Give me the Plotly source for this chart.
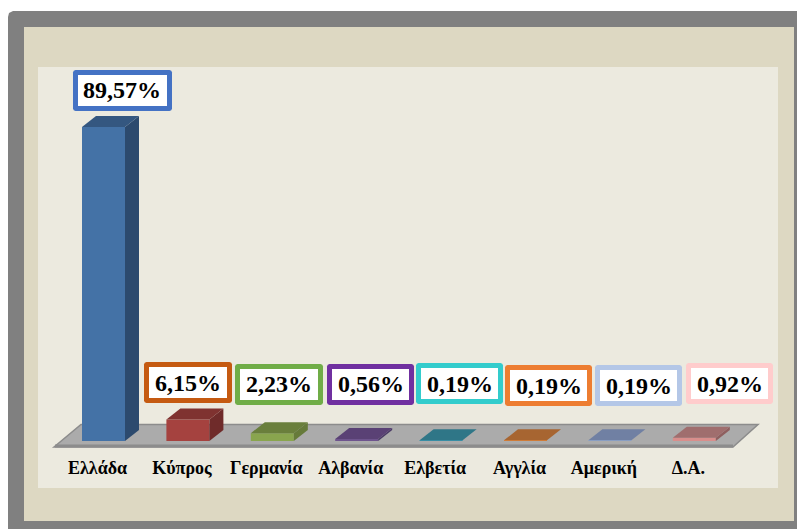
import plotly.graph_objects as go

categories = ["Ελλάδα", "Κύπρος", "Γερμανία", "Αλβανία", "Ελβετία", "Αγγλία", "Αμερική", "Δ.Α."]
values = [89.57, 6.15, 2.23, 0.56, 0.19, 0.19, 0.19, 0.92]
value_labels = ["89,57%", "6,15%", "2,23%", "0,56%", "0,19%", "0,19%", "0,19%", "0,92%"]
front_colors = ["#4472A6", "#A5423F", "#89A54E", "#6E548D", "#3D96AE", "#DB843D", "#92A8CD", "#D98E8C"]
side_colors = ["#2C4A6E", "#6F2B2A", "#667A3A", "#4A3A66", "#2A6C7E", "#96592A", "#66759A", "#8F5F5F"]
top_colors = ["#345780", "#7F3230", "#6A7F3C", "#5A4175", "#2F7687", "#A76531", "#7080A3", "#A06E6E"]
border_colors = ["#4472C4", "#C55A11", "#70AD47", "#7030A0", "#33CCCC", "#ED7D31", "#B4C7E7", "#FFCCCC"]

W, H = 797, 529
PX_PER_CAT = 84.4
PX_PER_VAL = 3.506
LABEL_X0 = 97.5
BASE_Y = 441.0
AXIS_Y = 452.0
BAR_W = 43 / PX_PER_CAT
BAR_OFF = 6.0 / PX_PER_CAT
DEPTH_X = 14 / PX_PER_CAT
DEPTH_Y = 11 / PX_PER_VAL

# (x-left, x-right, y-top, y-bottom) in pixels of each label box
boxes = [(73, 172, 70, 111), (144, 232, 362, 403), (235, 323, 364, 405), (327, 414, 364, 405),
         (416, 503, 363, 404), (505, 592, 365, 406), (595, 682, 365, 406), (686, 773, 363, 404)]

def px(x): return x / W
def py(y): return 1 - y / H

def rect(x0, y0, x1, y1, color, layer="below"):
    return dict(type="rect", xref="paper", yref="paper", x0=px(x0), x1=px(x1), y0=py(y0), y1=py(y1),
                fillcolor=color, line_width=0, layer=layer)

def poly(points, fill, line=None, width=0, layer="below"):
    d = "M" + " L".join(f"{px(a):.5f},{py(b):.5f}" for a, b in points) + " Z"
    return dict(type="path", xref="paper", yref="paper", path=d, fillcolor=fill,
                line=dict(color=line or fill, width=width), layer=layer)

def rounded(x0, y0, x1, y1, color, r=2.5):
    c = r * 0.3
    pts = [(x0 + r, y0), (x1 - r, y0), (x1 - c, y0 + c), (x1, y0 + r), (x1, y1 - r), (x1 - c, y1 - c),
           (x1 - r, y1), (x0 + r, y1), (x0 + c, y1 - c), (x0, y1 - r), (x0, y0 + r), (x0 + c, y0 + c)]
    return poly(pts, color, layer="above")

shapes = [
    poly([(8, 529), (8, 17), (9, 13), (13, 11), (797, 11), (797, 529)], "#808080"),
    rect(24, 27, 794, 521, "#DDD8C2"),
    rect(38, 67, 778, 488, "#ECEADF"),
    poly([(54, 447), (81, 424.5), (758, 424.5), (733, 447)], "#ABABAB", "#8C8C8C", 1.5),
    rect(55, 444.5, 733, 447.5, "#8C8C8C"),
]

fig = go.Figure()

for i, v in enumerate(values):
    x0 = i + BAR_OFF - BAR_W / 2
    x1 = x0 + BAR_W
    fig.add_trace(go.Scatter(x=[x1, x1 + DEPTH_X, x1 + DEPTH_X, x1, x1], y=[0, DEPTH_Y, v + DEPTH_Y, v, 0],
                             mode="lines", fill="toself", fillcolor=side_colors[i], line=dict(width=0),
                             hoverinfo="skip"))
    fig.add_trace(go.Scatter(x=[x0, x1, x1 + DEPTH_X, x0 + DEPTH_X, x0], y=[v, v, v + DEPTH_Y, v + DEPTH_Y, v],
                             mode="lines", fill="toself", fillcolor=top_colors[i], line=dict(width=0),
                             hoverinfo="skip"))

fig.add_trace(go.Bar(x=[i + BAR_OFF for i in range(len(values))], y=values, width=BAR_W,
                     marker=dict(color=front_colors, line_width=0), hovertext=categories, hoverinfo="text+y"))

annotations = []
for (x0, x1, y0, y1), text, color in zip(boxes, value_labels, border_colors):
    shapes.append(rounded(x0, y0, x1, y1, color))
    shapes.append(rect(x0 + 5, y0 + 5, x1 - 5, y1 - 5, "#FFFFFF", layer="above"))
    annotations.append(dict(
        xref="paper", yref="paper", x=px((x0 + x1) / 2), y=py((y0 + y1) / 2), xanchor="center", yanchor="middle",
        text=f"<b>{text}</b>", showarrow=False, font=dict(family="Liberation Serif", size=24, color="#000000"),
        borderpad=0, align="center", valign="middle"))

fig.update_layout(
    width=W, height=H, margin=dict(l=0, r=0, t=0, b=0, pad=0, autoexpand=False),
    paper_bgcolor="#FFFFFF", plot_bgcolor="rgba(0,0,0,0)", showlegend=False,
    shapes=shapes, annotations=annotations,
    xaxis=dict(range=[-LABEL_X0 / PX_PER_CAT, (W - LABEL_X0) / PX_PER_CAT], tickmode="array",
               tickvals=list(range(len(categories))), ticktext=[f"<b>{c}</b>" for c in categories],
               tickangle=0, showgrid=False, zeroline=False, showline=False, ticks="", ticklabelstandoff=3,
               tickfont=dict(family="Liberation Serif", size=18, color="#000000")),
    yaxis=dict(domain=[(H - AXIS_Y) / H, 1], range=[-(AXIS_Y - BASE_Y) / PX_PER_VAL, BASE_Y / PX_PER_VAL],
               visible=False),
)

fig.write_html("out.html", config=dict(displayModeBar=False),
               post_script="document.body.style.margin='0';document.documentElement.style.overflow='hidden';")
